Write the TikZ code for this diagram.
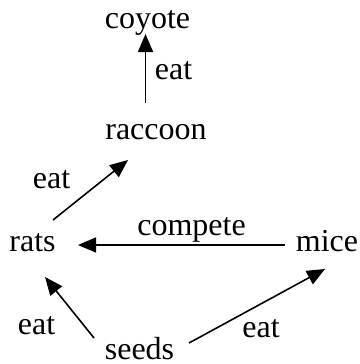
\documentclass[tikz,border=0pt]{standalone}
\usepackage{fontspec}
\setmainfont{Liberation Serif}
\usetikzlibrary{arrows.meta,calc}
\begin{document}
\begin{tikzpicture}[x=1pt,y=-1pt,
  lbl/.style={anchor=base,inner sep=0pt,text depth=0pt,font=\fontsize{32}{38}\selectfont},
  link/.style={line width=1.6pt,-{Triangle[length=18pt,width=15pt]}}]
\useasboundingbox (0,0) rectangle (359,364);
% species
\node[lbl] (coyote)  at (147.5,28) {coyote};
\node[lbl] (raccoon) at (156,139) {raccoon};
\node[lbl] (rats)    at (32.5,251) {rats};
\node[lbl] (mice)    at (327,251) {mice};
\node[lbl] (seeds)   at (139.5,359) {seeds};
% relation labels
\node[lbl] (eatA) at (173.5,79) {eat};
\node[lbl] (eatB) at (51.5,188) {eat};
\node[lbl] (comp) at (191.5,235) {compete};
\node[lbl] (eatC) at (36.5,334) {eat};
\node[lbl] (eatD) at (261,337) {eat};
% connectors, offsets measured from each label's baseline point
\draw[link] ($(raccoon.base)+(-10.5,-36)$) -- ($(coyote.base)+(-2,6)$);
\draw[link] ($(rats.base)+(20.5,-31)$) -- ($(raccoon.base)+(-28,21)$);
\draw[link] ($(mice.base)+(-42,-6)$) -- ($(rats.base)+(45.5,-6)$);
\draw[link] ($(seeds.base)+(-45.5,-21)$) -- ($(rats.base)+(12.5,26)$);
\draw[link] ($(seeds.base)+(49.5,-16)$) -- ($(mice.base)+(-2,18)$);
\end{tikzpicture}
\end{document}
